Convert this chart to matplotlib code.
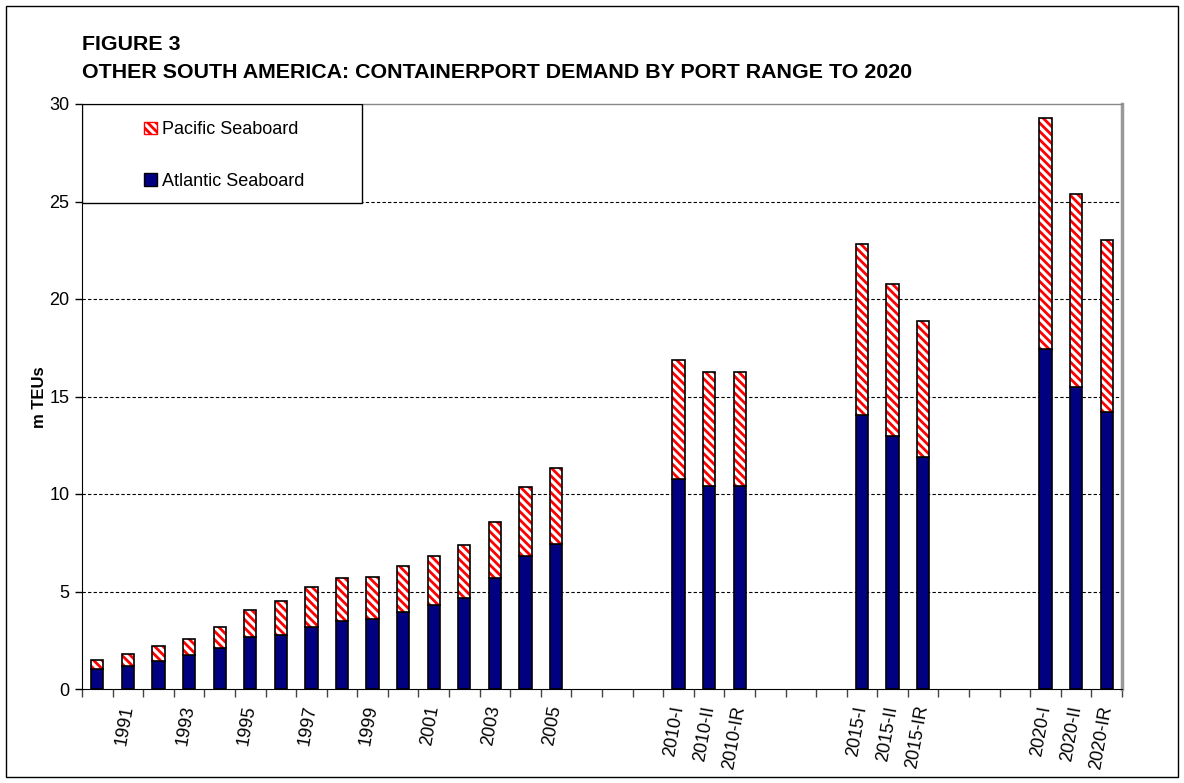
import numpy as np
import matplotlib
matplotlib.use('Agg')
import matplotlib.pyplot as plt
from matplotlib.patches import Patch, Rectangle

plt.rcParams['font.family'] = ['Liberation Sans', 'DejaVu Sans']
plt.rcParams['hatch.linewidth'] = 2.0

# categories in order (years, then scenario groups)
years = ['1990', '1991', '1992', '1993', '1994', '1995', '1996', '1997',
         '1998', '1999', '2000', '2001', '2002', '2003', '2004', '2005']
scenarios = [['2010-I', '2010-II', '2010-IR'],
             ['2015-I', '2015-II', '2015-IR'],
             ['2020-I', '2020-II', '2020-IR']]

# m TEUs
atlantic = [1.03, 1.20, 1.44, 1.73, 2.09, 2.67, 2.77, 3.20,
            3.49, 3.57, 3.97, 4.31, 4.68, 5.68, 6.84, 7.42,
            10.75, 10.42, 10.42,
            14.05, 12.97, 11.90,
            17.44, 15.51, 14.23]
pacific = [0.46, 0.59, 0.78, 0.85, 1.09, 1.38, 1.73, 2.01,
           2.20, 2.16, 2.35, 2.53, 2.72, 2.87, 3.50, 3.91,
           6.14, 5.83, 5.83,
           8.79, 7.78, 6.95,
           11.86, 9.89, 8.81]

# slot positions: blank slots between the year block and each scenario group
gap = 3
labels = []
pos = []
slot = 0
for i, y in enumerate(years):
    labels.append(y if i % 2 == 1 else '')
    pos.append(slot)
    slot += 1
for grp in scenarios:
    slot += gap
    for c in grp:
        labels.append(c)
        pos.append(slot)
        slot += 1
x = np.array(pos)
atl = np.array(atlantic)
pac = np.array(pacific)

fig = plt.figure(figsize=(11.84, 7.83), dpi=100)
W, H = 1184, 783
ax = fig.add_axes([82 / W, 1 - 689 / H, 1040 / W, 585 / H])

bw = 0.4
ax.bar(x, atl, width=bw, color='#000080', edgecolor='black', linewidth=1.2, zorder=3)
ax.bar(x, pac, bottom=atl, width=bw, color='white', edgecolor='#ff0000',
       hatch='\\\\\\\\', linewidth=0, zorder=3)
ax.bar(x, pac, bottom=atl, width=bw, fill=False, edgecolor='black', linewidth=1.2, zorder=4)

ax.set_xlim(-0.5, slot - 0.5)
ax.set_ylim(0, 30)
ax.set_yticks(np.arange(0, 31, 5))
ax.tick_params(axis='y', labelsize=13, length=5, width=1, pad=4)
ax.set_xticks(x)
ax.set_xticklabels(labels, rotation=80, ha='right', va='center',
                   rotation_mode='anchor', fontsize=13)
ax.tick_params(axis='x', which='major', length=0, pad=12)
ax.set_xticks(np.arange(-0.5, slot, 1), minor=True)
ax.tick_params(axis='x', which='minor', length=6, width=1, color='#444444')

for v in range(5, 30, 5):
    ax.axhline(v, color='black', linewidth=0.8, linestyle=(0, (3, 2)), zorder=1)

ax.spines['left'].set_color('black')
ax.spines['bottom'].set_color('black')
ax.spines['top'].set_color('#888888')
ax.spines['top'].set_linewidth(1.0)
ax.spines['right'].set_color('#999999')
ax.spines['right'].set_linewidth(2.5)

# legend box
ax.add_patch(Rectangle((0, 1 - 99 / 585), 280 / 1040, 99 / 585, transform=ax.transAxes,
                       facecolor='white', edgecolor='black', linewidth=1, zorder=6))
handles = [Patch(facecolor='white', edgecolor='#ff0000', hatch='\\\\\\\\'),
           Patch(facecolor='#000080', edgecolor='black')]
leg = ax.legend(handles, ['Pacific Seaboard', 'Atlantic Seaboard'], loc='upper left',
                bbox_to_anchor=(55 / 1040, 1 - 10 / 585), frameon=False, fontsize=13,
                handlelength=0.7, handleheight=0.7, handletextpad=0.3,
                labelspacing=1.9, borderaxespad=0)
leg.set_zorder(7)

fig.text(82 / W, 1 - 45 / H, 'FIGURE 3', fontsize=15.4, fontweight='bold', va='center')
fig.text(82 / W, 1 - 72 / H, 'OTHER SOUTH AMERICA: CONTAINERPORT DEMAND BY PORT RANGE TO 2020',
         fontsize=15.4, fontweight='bold', va='center')
fig.text(40 / W, 1 - 397 / H, 'm TEUs', rotation=90, fontsize=12, fontweight='bold',
         ha='center', va='center')

fig.add_artist(Rectangle((6 / W, 6 / H), 1172 / W, 771 / H, transform=fig.transFigure,
                         fill=False, edgecolor='black', linewidth=1))

fig.savefig('out.png', dpi=100)
